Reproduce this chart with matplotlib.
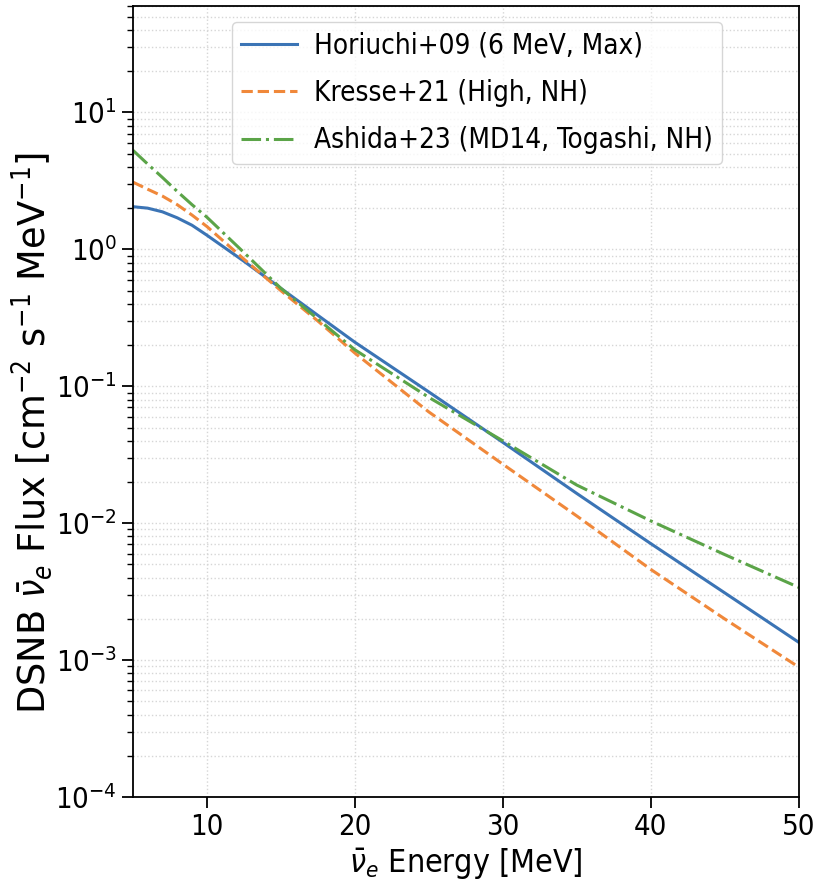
import numpy as np
import matplotlib

matplotlib.use("Agg")
import matplotlib.pyplot as plt

energy = [5, 6, 7, 8, 9, 10, 12.5, 15, 17.5, 20, 25, 30, 35, 40, 45, 50]

# DSNB anti-nu_e flux [cm^-2 s^-1 MeV^-1]
horiuchi = [2.05, 2.0, 1.88, 1.70, 1.50, 1.27, 0.82, 0.52, 0.33, 0.21,
            0.091, 0.039, 0.0165, 0.0071, 0.0031, 0.00135]
kresse = [3.1, 2.75, 2.45, 2.12, 1.78, 1.47, 0.85, 0.50, 0.30, 0.175,
          0.065, 0.027, 0.0113, 0.0046, 0.0020, 0.00089]
ashida = [5.3, 4.2, 3.35, 2.65, 2.12, 1.72, 0.95, 0.52, 0.31, 0.185,
          0.083, 0.040, 0.019, 0.0104, 0.0059, 0.0034]

labels = ["Horiuchi+09 (6 MeV, Max)",
          "Kresse+21 (High, NH)",
          "Ashida+23 (MD14, Togashi, NH)"]

plt.rcParams["font.stretch"] = "condensed"

fig = plt.figure(figsize=(8.2, 8.81), dpi=100)
ax = fig.add_axes([0.162, 0.0953, 0.812, 0.898])

ax.plot(energy, horiuchi, color="#3b74b5", lw=2.2, ls="-", label=labels[0])
ax.plot(energy, kresse, color="#f0883a", lw=2.2, ls="--", label=labels[1])
ax.plot(energy, ashida, color="#5ba448", lw=2.2, ls="-.", label=labels[2])

ax.set_yscale("log")
ax.set_xlim(5, 50)
ax.set_ylim(1e-4, 60)
ax.set_xticks([10, 20, 30, 40, 50])

ax.grid(True, which="both", ls=":", color="#d6d6d6", lw=1.0)
ax.tick_params(axis="both", which="major", labelsize=21, length=8, width=1.3)
ax.tick_params(axis="both", which="minor", length=4.5, width=1.0)
for spine in ax.spines.values():
    spine.set_linewidth(1.3)

ax.set_xlabel(r"$\bar{\nu}_e$ Energy [MeV]", fontsize=23)
ax.set_ylabel(r"DSNB $\bar{\nu}_e$ Flux [cm$^{-2}$ s$^{-1}$ MeV$^{-1}$]",
              fontsize=26.5, fontstretch="normal")
ax.yaxis.set_label_coords(-0.118, 0.46)

ax.legend(loc="upper right", bbox_to_anchor=(0.885, 0.98), borderaxespad=0,
          fontsize=20, labelspacing=0.7, handletextpad=0.6, borderpad=0.35,
          framealpha=0.8, edgecolor="#cccccc", fancybox=True)

fig.savefig("out.png", dpi=100)
